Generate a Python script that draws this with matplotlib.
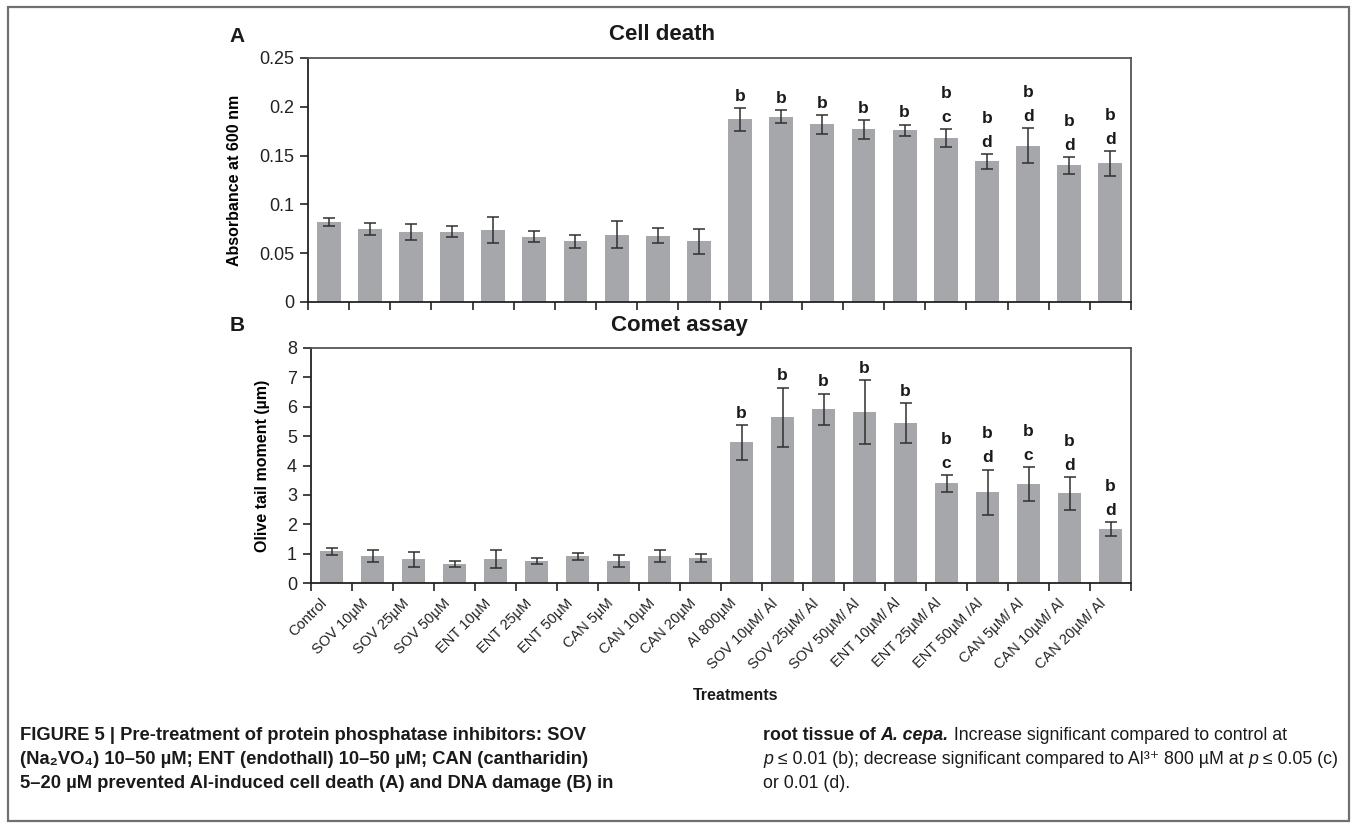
import matplotlib
matplotlib.use("Agg")
import matplotlib.pyplot as plt
import matplotlib.transforms as mtransforms
from matplotlib.patches import Rectangle
import numpy as np

plt.rcParams["font.family"] = ["Liberation Sans", "DejaVu Sans"]

treatments = ["Control", "SOV 10µM", "SOV 25µM", "SOV 50µM", "ENT 10µM", "ENT 25µM",
              "ENT 50µM", "CAN 5µM", "CAN 10µM", "CAN 20µM", "Al 800µM",
              "SOV 10µM/ Al", "SOV 25µM/ Al", "SOV 50µM/ Al", "ENT 10µM/ Al",
              "ENT 25µM/ Al", "ENT 50µM /Al", "CAN 5µM/ Al", "CAN 10µM/ Al", "CAN 20µM/ Al"]

# panel A: cell death (absorbance at 600 nm)
cell_death = [0.082, 0.075, 0.072, 0.072, 0.074, 0.067, 0.062, 0.069, 0.068, 0.062,
              0.187, 0.190, 0.182, 0.177, 0.176, 0.168, 0.144, 0.160, 0.140, 0.142]
cell_death_err = [0.0037, 0.0063, 0.008, 0.0055, 0.0135, 0.006, 0.007, 0.0135, 0.0075, 0.013,
                  0.012, 0.0068, 0.0094, 0.0098, 0.0058, 0.009, 0.0075, 0.018, 0.0085, 0.0129]
cell_death_sig = [""] * 10 + ["b", "b", "b", "b", "b", "b\nc", "b\nd", "b\nd", "b\nd", "b\nd"]

# panel B: comet assay (olive tail moment)
comet = [1.08, 0.91, 0.81, 0.64, 0.81, 0.74, 0.91, 0.74, 0.91, 0.84,
         4.79, 5.64, 5.91, 5.81, 5.44, 3.39, 3.09, 3.36, 3.05, 1.83]
comet_err = [0.11, 0.21, 0.25, 0.11, 0.31, 0.10, 0.12, 0.20, 0.21, 0.14,
             0.60, 1.01, 0.54, 1.09, 0.68, 0.29, 0.77, 0.58, 0.56, 0.23]
comet_sig = [""] * 10 + ["b", "b", "b", "b", "b", "b\nc", "b\nd", "b\nc", "b\nd", "b\nd"]

W, H = 1357, 824
fig = plt.figure(figsize=(W / 100, H / 100), dpi=100)

bar_color = "#a6a7ab"
dark = "#222222"
x = np.arange(len(treatments))


def panel(rect, vals, errs, sig, ymax, ystep, fmt, ylabel, title, title_x, title_y, letter, letter_y):
    ax = fig.add_axes([rect[0] / W, 1 - rect[3] / H, (rect[2] - rect[0]) / W, (rect[3] - rect[1]) / H])
    ax.bar(x, vals, width=0.58, color=bar_color, zorder=2)
    ax.errorbar(x, vals, yerr=errs, fmt="none", ecolor="#303030", elinewidth=1.1,
                capsize=4, capthick=1.1, zorder=3)
    for xi, v, e, s in zip(x, vals, errs, sig):
        if s:
            ax.annotate(s, (xi, v + e), xytext=(0, 3), textcoords="offset points",
                        ha="center", va="bottom", fontsize=12.5, fontweight="bold",
                        linespacing=1.75, color="#1a1a1a")
    ax.set_xlim(-0.5, len(x) - 0.5)
    ax.set_ylim(0, ymax)
    ticks = np.arange(0, ymax + ystep / 2, ystep)
    ax.set_yticks(ticks)
    ax.set_yticklabels([fmt(t) for t in ticks], fontsize=13, color="#222222")
    ax.set_xticks(np.arange(-0.5, len(x), 1.0))
    ax.set_xticklabels([])
    ax.tick_params(axis="both", direction="out", length=6, width=1.2, color=dark)
    ax.tick_params(axis="y", pad=4)
    for sp in ax.spines.values():
        sp.set_linewidth(1.3)
        sp.set_color(dark)
    ax.spines["top"].set_color("#555555")
    ax.spines["right"].set_color("#555555")
    ax.set_ylabel(ylabel, fontsize=11.5, fontweight="bold", labelpad=12)
    fig.text(title_x / W, 1 - title_y / H, title, fontsize=16, fontweight="bold",
             ha="center", va="center", color="#1a1a1a")
    fig.text(237 / W, 1 - letter_y / H, letter, fontsize=15, fontweight="bold",
             ha="center", va="center", color="#1a1a1a")
    return ax


def fmt_a(v):
    return "0" if v == 0 else ("%.2f" % v).rstrip("0")


def fmt_b(v):
    return "%d" % v


ax_a = panel((308, 58, 1131, 302), cell_death, cell_death_err, cell_death_sig,
             0.25, 0.05, fmt_a, "Absorbance at 600 nm", "Cell death", 662, 35, "A", 37)
ax_b = panel((311, 348, 1131, 583), comet, comet_err, comet_sig,
             8, 1, fmt_b, "Olive tail moment (µm)", "Comet assay", 679, 325, "B", 326)

for xi, lab in zip(x, treatments):
    ax_b.annotate(lab, (xi, 0), xytext=(-5, -13), textcoords="offset points",
                  xycoords=("data", "axes fraction"), rotation=45, ha="right", va="center",
                  rotation_mode="anchor", fontsize=10.5, color="#222222")

fig.text(736 / W, 1 - 695 / H, "Treatments", fontsize=11.5, fontweight="bold",
         ha="center", va="center", color="#1a1a1a")

# figure frame
fig.patches.append(Rectangle((8 / W, 3 / H), 1341 / W, 814 / H, transform=fig.transFigure,
                             fill=False, edgecolor="#707070", linewidth=1.6))

# caption, built from styled pieces and fitted to the column width
renderer = fig.canvas.get_renderer()
ident = mtransforms.IdentityTransform()


def rich_line(x0, ytop, parts, size):
    xpos = x0
    made = []
    for s, weight, style in parts:
        t = fig.text(xpos, H - ytop, s, transform=ident, fontsize=size, fontweight=weight,
                     fontstyle=style, va="baseline", ha="left", color="#1a1a1a")
        made.append(t)
        xpos = t.get_window_extent(renderer).x1
    return made, xpos - x0


def fitted_size(parts, width, trial=13):
    made, w = rich_line(0, -100, parts, trial)
    for t in made:
        t.remove()
    return trial * width / w


B, R, N, I = "bold", "normal", "normal", "italic"
left_lines = [
    [("FIGURE 5 | Pre-treatment of protein phosphatase inhibitors: SOV", B, N)],
    [("(Na₂VO₄) 10–50 µM; ENT (endothall) 10–50 µM; CAN (cantharidin)", B, N)],
    [("5–20 µM prevented Al-induced cell death (A) and DNA damage (B) in", B, N)],
]
right_lines = [
    [("root tissue of ", B, N), ("A. cepa.", B, I),
     (" Increase significant compared to control at", R, N)],
    [("p", R, I), (" ≤ 0.01 (b); decrease significant compared to Al³⁺ 800 µM at ", R, N),
     ("p", R, I), (" ≤ 0.05 (c)", R, N)],
    [("or 0.01 (d).", R, N)],
]
size_left = fitted_size(left_lines[2], 590)
size_right = fitted_size(right_lines[1], 574)
for i, parts in enumerate(left_lines):
    rich_line(20, 740 + 24 * i, parts, size_left)
for i, parts in enumerate(right_lines):
    rich_line(763, 740 + 24 * i, parts, size_right)

fig.savefig("out.png", dpi=100)
